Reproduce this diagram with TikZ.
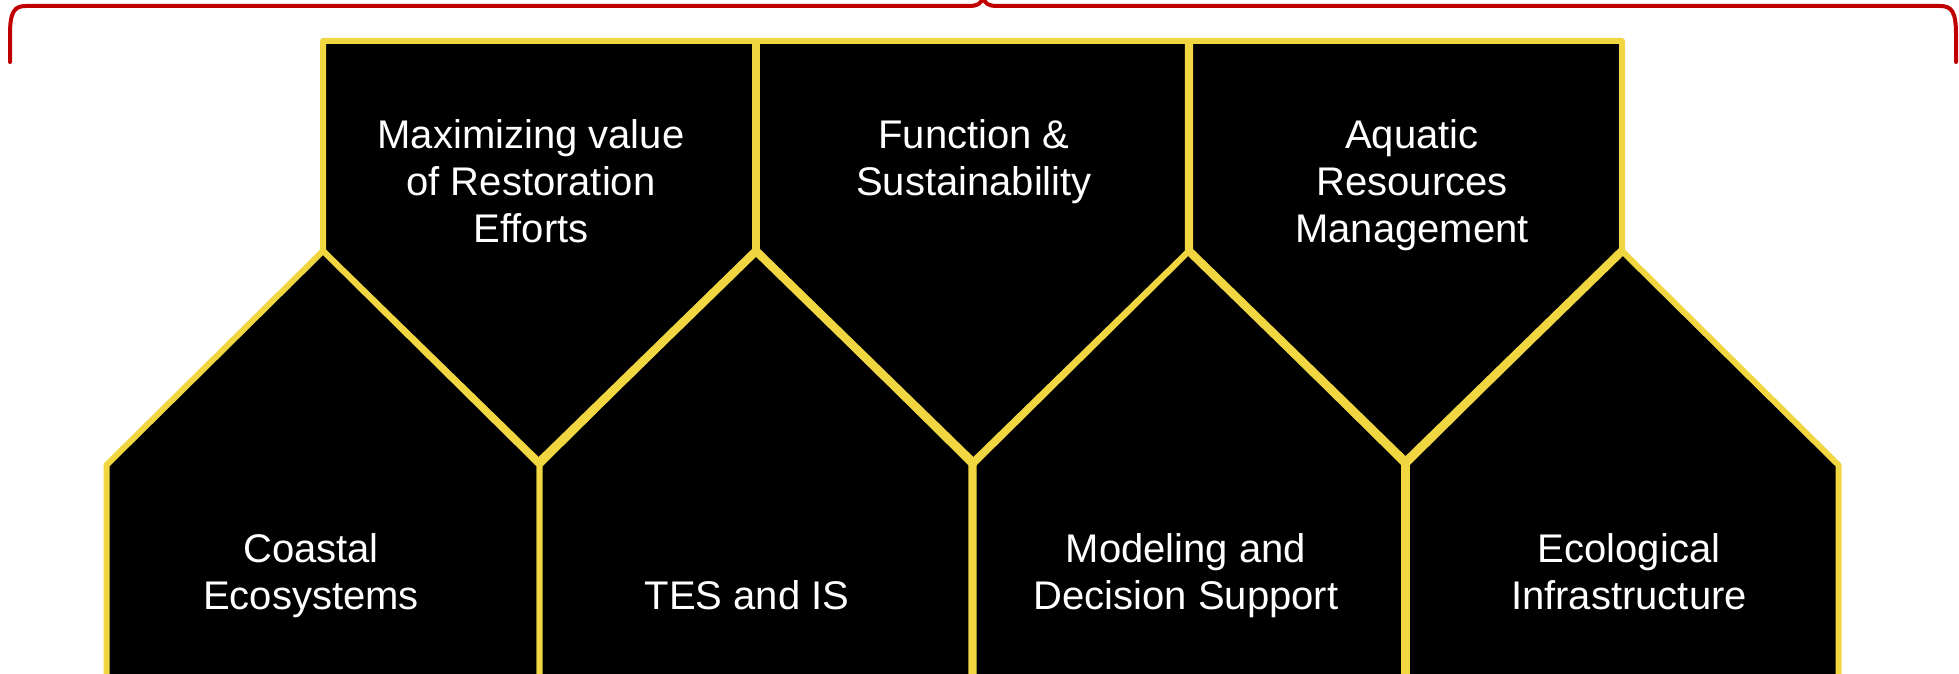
\documentclass[tikz,border=0pt]{standalone}
\usepackage{fontspec}
\setmainfont{Liberation Sans}
\definecolor{hexyellow}{RGB}{240,214,64}
\definecolor{bracered}{RGB}{192,0,0}

\begin{document}
\begin{tikzpicture}[x=0.5pt,y=-0.5pt,
    cell/.style ={draw=hexyellow, fill=black, line width=3pt, line join=round},
    seam/.style ={draw=hexyellow, line width=4.2pt, line join=round},
    brace/.style ={draw=bracered, line width=2pt, line cap=round},
    caption/.style ={text=white, align=center, inner sep=0pt,
      font=\fontsize{20}{23.5}\selectfont}]
   \useasboundingbox (0,0) rectangle (1959,674);
   \clip (0,0) rectangle (1959,674);

   % upper row, pointing down
   \foreach \c in {539.5,972.5,1405.5}
     \draw[cell] (\c-216.5,41) -- (\c+216.5,41) -- (\c+216.5,251)
       -- (\c,462) -- (\c-216.5,251) -- cycle;

   % lower row, pointing up
   \foreach \c in {323,756,1189,1622}
     \draw[cell] (\c-216.5,720) -- (\c-216.5,465) -- (\c,251)
       -- (\c+216.5,465) -- (\c+216.5,720) -- cycle;

   % heavier seams where the cells meet
   \draw[seam] (539.5,462) -- (756,251) -- (972.5,462) -- (972.5,720);
   \draw[seam] (756,41) -- (756,251);
   \draw[seam] (1189,41) -- (1189,251) -- (1405.5,462) -- (1622,251);
   \draw[seam] (1405.5,462) -- (1405.5,720);

   \node[caption] (restore) at (531,181) {Maximizing value\\of Restoration\\Efforts};
   \node[caption] (function) at (974,162) {Function \&\\Sustainability};
   \node[caption] (aquatic) at (1412,185) {Aquatic\\Resources\\Management};

   \node[caption] (coastal) at (311,576) {Coastal\\Ecosystems};
   \node[caption] (tes) at (747,595) {TES and IS};
   \node[caption] (model) at (1186,576) {Modeling and\\Decision Support};
   \node[caption] (infra) at (1629,572) {Ecological\\Infrastructure};

   % brace over the top
   \draw[brace] (10,62) -- (10,35) .. controls (10,12) and (14,6) .. (26,6)
     -- (968,6) .. controls (978,6) and (981,4) .. (983,-3)
     .. controls (985,4) and (988,6) .. (998,6) -- (1940,6)
     .. controls (1952,6) and (1956,12) .. (1956,35) -- (1956,62);
 \end{tikzpicture}
\end{document}
